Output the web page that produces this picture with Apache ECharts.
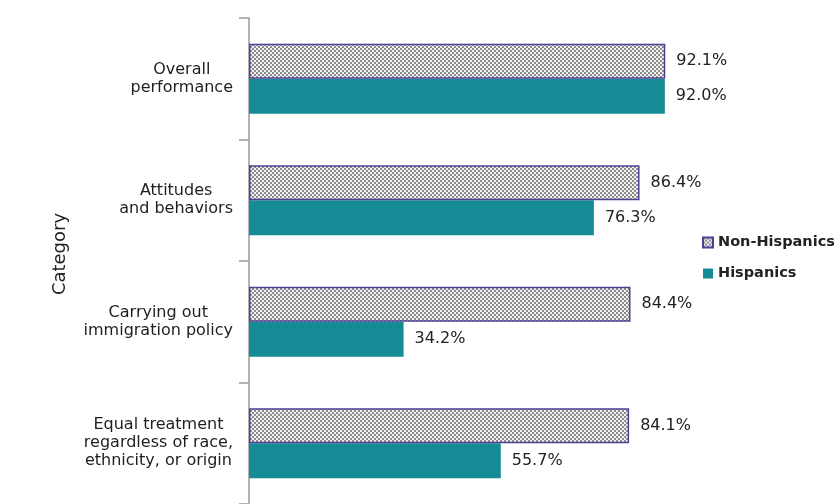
<!DOCTYPE html>
<html>
<head>
<meta charset="utf-8">
<script src="https://cdn.jsdelivr.net/npm/echarts@6/dist/echarts.min.js"></script>
<style>
html,body{margin:0;padding:0;background:#fff;}
#chart{width:838px;height:504px;}
</style>
</head>
<body>
<div id="chart"></div>
<script>
var categories = ['Overall\nperformance', 'Attitudes\nand behaviors', 'Carrying out\nimmigration policy', 'Equal treatment\nregardless of race,\nethnicity, or origin'];
var seriesNames = ['Non-Hispanics', 'Hispanics'];
var nonHispanics = [92.1, 86.4, 84.4, 84.1];
var hispanics = [92.0, 76.3, 34.2, 55.7];
var axisName = 'Category';

var FONT = 'DejaVu Sans';

var cv = document.createElement('canvas');
cv.width = 4; cv.height = 4;
var cx = cv.getContext('2d');
cx.fillStyle = '#f2f2f2'; cx.fillRect(0, 0, 4, 4);
cx.fillStyle = '#8c8c8c'; cx.fillRect(0, 0, 2, 2); cx.fillRect(2, 2, 2, 2);
var pattern = {image: cv, repeat: 'repeat'};

var chart = echarts.init(document.getElementById('chart'), null, {renderer: 'canvas'});

var labelCfg = {
  show: true, position: 'right', distance: 11,
  fontFamily: FONT, fontSize: 16, color: '#222',
  formatter: function (p) { return p.value.toFixed(1) + '%'; }
};

chart.setOption({
  animation: false,
  backgroundColor: '#fff',
  grid: {left: 249, right: 137, top: 18, bottom: 0, containLabel: false},
  legend: {
    orient: 'vertical', left: 697, top: 230, itemWidth: 10, itemHeight: 10, itemGap: 16,
    icon: 'rect',
    data: seriesNames,
    textStyle: {fontFamily: FONT, fontSize: 14.5, fontWeight: 'bold', color: '#222'}
  },
  xAxis: {type: 'value', min: 0, max: 100, show: false},
  yAxis: {
    type: 'category', inverse: true, data: categories,
    name: axisName, nameLocation: 'middle', nameGap: 180, nameRotate: 90,
    nameTextStyle: {fontFamily: FONT, fontSize: 18, color: '#222', padding: [0, 0, 0, 14]},
    axisLine: {lineStyle: {color: '#9a9a9a', width: 1.5}},
    axisTick: {show: true, length: 10, inside: false, alignWithLabel: false, lineStyle: {color: '#9a9a9a', width: 1.5}},
    axisLabel: {
      margin: 16,
      formatter: function (v) { return v.split('\n').map(function (s) { return '{c|' + s + '}'; }).join('\n'); },
      rich: {c: {align: 'center', fontFamily: FONT, fontSize: 16, lineHeight: 18, color: '#1e1e1e'}}
    },
    splitLine: {show: false}
  },
  series: [
    {
      name: seriesNames[0], type: 'bar', data: nonHispanics, barWidth: 35, barGap: '0%',
      itemStyle: {color: pattern, borderColor: '#4f3f94', borderWidth: 1.5},
      label: labelCfg, z: 3
    },
    {
      name: seriesNames[1], type: 'bar', data: hispanics, barWidth: 35, barGap: '0%',
      itemStyle: {color: '#148b95'},
      label: labelCfg, z: 2
    }
  ]
});
</script>
</body>
</html>
